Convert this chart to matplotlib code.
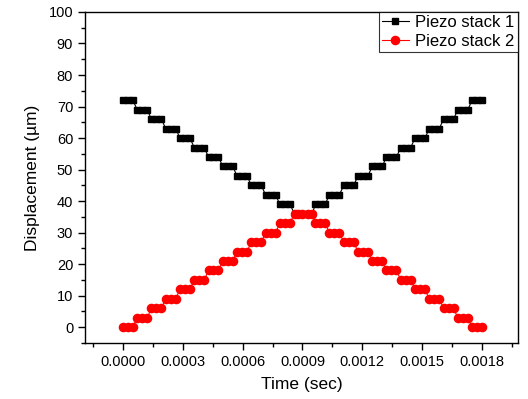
import matplotlib
matplotlib.use("Agg")
import matplotlib.pyplot as plt
from matplotlib.ticker import MultipleLocator, FormatStrFormatter
from matplotlib.legend_handler import HandlerLine2D
import numpy as np

plt.rcParams['font.family'] = ['Liberation Sans', 'DejaVu Sans']

# Time (sec) of every sample
time_s = [
    0.0, 0.000025, 0.00005,
    0.0000715, 0.0000965, 0.0001215,
    0.000143, 0.000168, 0.000193,
    0.0002145, 0.0002395, 0.0002645,
    0.000286, 0.000311, 0.000336,
    0.0003575, 0.0003825, 0.0004075,
    0.000429, 0.000454, 0.000479,
    0.0005005, 0.0005255, 0.0005505,
    0.000572, 0.000597, 0.000622,
    0.0006435, 0.0006685, 0.0006935,
    0.000715, 0.00074, 0.000765,
    0.0007865, 0.0008115, 0.0008365,
    0.00086, 0.00088, 0.0009, 0.00093, 0.00095,
    0.0009635, 0.000988, 0.0010135,
    0.001035, 0.00106, 0.001085,
    0.0011065, 0.0011315, 0.0011565,
    0.001178, 0.001203, 0.001228,
    0.0012495, 0.0012745, 0.0012995,
    0.001321, 0.001346, 0.001371,
    0.0013925, 0.0014175, 0.0014425,
    0.001464, 0.001489, 0.001514,
    0.0015355, 0.0015605, 0.0015855,
    0.001607, 0.001632, 0.001657,
    0.0016785, 0.0017035, 0.0017285,
    0.00175, 0.001775, 0.0018,
]

# Piezo stack 1 displacement (um)
stack1 = [
    72, 72, 72, 69, 69, 69, 66, 66, 66, 63, 63, 63,
    60, 60, 60, 57, 57, 57, 54, 54, 54, 51, 51, 51,
    48, 48, 48, 45, 45, 45, 42, 42, 42, 39, 39, 39,
    36, 36, 36, 36, 36,
    39, 39, 39, 42, 42, 42, 45, 45, 45, 48, 48, 48,
    51, 51, 51, 54, 54, 54, 57, 57, 57, 60, 60, 60,
    63, 63, 63, 66, 66, 66, 69, 69, 69, 72, 72, 72,
]

# Piezo stack 2 displacement (um)
stack2 = [
    0, 0, 0, 3, 3, 3, 6, 6, 6, 9, 9, 9,
    12, 12, 12, 15, 15, 15, 18, 18, 18, 21, 21, 21,
    24, 24, 24, 27, 27, 27, 30, 30, 30, 33, 33, 33,
    36, 36, 36, 36, 36,
    33, 33, 33, 30, 30, 30, 27, 27, 27, 24, 24, 24,
    21, 21, 21, 18, 18, 18, 15, 15, 15, 12, 12, 12,
    9, 9, 9, 6, 6, 6, 3, 3, 3, 0, 0, 0,
]

x_ticks = [0.0, 0.0003, 0.0006, 0.0009, 0.0012, 0.0015, 0.0018]


class LeftMarkerHandler(HandlerLine2D):
    def get_xdata(self, legend, xdescent, ydescent, width, height, fontsize):
        xdata = np.array([-xdescent, -xdescent + width], float)
        xdata_marker = np.array([-xdescent + 0.12 * width], float)
        return xdata, xdata_marker


fig = plt.figure(figsize=(5.28, 3.99), dpi=100)
ax = fig.add_axes([0.161, 0.1404, 0.82, 0.8296])

ax.plot(time_s, stack1, color='black', marker='s', markersize=5.0,
        linewidth=0.8, label='Piezo stack 1')
ax.plot(time_s, stack2, color='#ff0000', marker='o', markersize=5.9,
        linewidth=0.8, label='Piezo stack 2')

ax.set_xlim(-0.00019, 0.00198)
ax.set_ylim(-5, 100)
ax.set_xticks(x_ticks)
ax.xaxis.set_major_formatter(FormatStrFormatter('%.4f'))
ax.xaxis.set_minor_locator(MultipleLocator(0.00015))
ax.yaxis.set_major_locator(MultipleLocator(10))
ax.yaxis.set_minor_locator(MultipleLocator(5))
ax.set_yticks(range(0, 101, 10))

ax.tick_params(which='major', direction='out', length=5, width=1,
               labelsize=10.5, colors='black')
ax.tick_params(which='minor', direction='out', length=3, width=1)
for s in ax.spines.values():
    s.set_linewidth(1.0)

ax.set_xlabel('Time (sec)', fontsize=12.5, labelpad=6)
ax.set_ylabel('Displacement (\u00b5m)', fontsize=12.5, labelpad=6)

leg = ax.legend(loc='upper right', fontsize=12, frameon=True, fancybox=False,
                edgecolor='black', borderaxespad=0, handlelength=1.6,
                handletextpad=0.4, borderpad=0.2, labelspacing=0.2,
                numpoints=1,
                handler_map={plt.Line2D: LeftMarkerHandler()})
leg.get_frame().set_linewidth(0.8)

fig.savefig('out.png', dpi=100)
